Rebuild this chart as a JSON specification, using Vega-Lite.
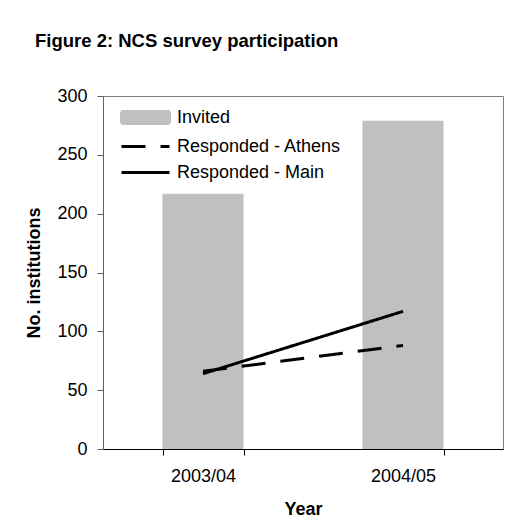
{
  "$schema": "https://vega.github.io/schema/vega-lite/v6.json",
  "autosize": {"type": "none"},
  "width": 400,
  "height": 353,
  "padding": {"left": 103, "top": 96, "right": 23, "bottom": 79},
  "background": "white",
  "config": {
    "font": "Liberation Sans",
    "view": {"stroke": "#808080", "strokeWidth": 1}
  },
  "title": {
    "text": "Figure 2: NCS survey participation",
    "anchor": "start",
    "frame": "group",
    "dx": -68,
    "offset": 37,
    "fontSize": 18.5,
    "fontWeight": "bold",
    "color": "black"
  },
  "data": {
    "values": [
      {"year": "2003/04", "series": "Invited", "value": 217},
      {"year": "2004/05", "series": "Invited", "value": 279},
      {"year": "2003/04", "series": "Responded - Athens", "value": 66},
      {"year": "2004/05", "series": "Responded - Athens", "value": 88},
      {"year": "2003/04", "series": "Responded - Main", "value": 64},
      {"year": "2004/05", "series": "Responded - Main", "value": 117}
    ]
  },
  "encoding": {
    "x": {
      "field": "year",
      "type": "nominal",
      "scale": {"paddingInner": 0.595, "paddingOuter": 0.2975},
      "axis": {
        "title": "Year",
        "labelAngle": 0,
        "labelFontSize": 18,
        "labelColor": "black",
        "labelPadding": 12,
        "tickBand": "extent",
        "tickSize": 6,
        "tickColor": "black",
        "domainColor": "black",
        "titleFontSize": 18,
        "titleFontWeight": "bold",
        "titleColor": "black",
        "titlePadding": 15
      }
    },
    "y": {
      "field": "value",
      "type": "quantitative",
      "scale": {"domain": [0, 300], "nice": false},
      "axis": {
        "title": "No. institutions",
        "values": [0, 50, 100, 150, 200, 250, 300],
        "grid": false,
        "labelFontSize": 18,
        "labelColor": "black",
        "labelPadding": 10,
        "tickSize": 6,
        "tickColor": "#606060",
        "domainColor": "#606060",
        "titleFontSize": 18,
        "titleFontWeight": "bold",
        "titleColor": "black",
        "titlePadding": 13
      }
    },
    "color": {
      "field": "series",
      "type": "nominal",
      "scale": {
        "domain": ["Invited", "Responded - Athens", "Responded - Main"],
        "range": ["#c0c0c0", "#000000", "#000000"]
      },
      "legend": {
        "title": null,
        "orient": "none",
        "legendX": 29,
        "legendY": 8,
        "padding": 0,
        "symbolSize": 576,
        "rowPadding": 3,
        "labelOffset": 18,
        "labelFontSize": 18,
        "labelColor": "black",
        "labelLimit": 300,
        "encode": {
          "symbols": {
            "update": {
              "shape": {"signal": "datum.value === 'Invited' ? 'M-2,-0.5H2V0.5H-2Z' : 'M-2,0H2'"},
              "fill": {"signal": "datum.value === 'Invited' ? '#c0c0c0' : 'transparent'"},
              "stroke": {"signal": "datum.value === 'Invited' ? 'transparent' : 'black'"},
              "strokeWidth": {"value": 3},
              "strokeDash": {"signal": "datum.value === 'Responded - Athens' ? [24, 15] : [1, 0]"},
              "opacity": {"value": 1}
            }
          }
        }
      }
    }
  },
  "layer": [
    {
      "transform": [{"filter": "datum.series === 'Invited'"}],
      "mark": {"type": "bar", "opacity": 1}
    },
    {
      "transform": [{"filter": "datum.series !== 'Invited'"}],
      "mark": {"type": "line", "strokeWidth": 3, "strokeCap": "butt"},
      "encoding": {
        "strokeDash": {
          "field": "series",
          "type": "nominal",
          "scale": {
            "domain": ["Responded - Athens", "Responded - Main"],
            "range": [[24, 15], [1, 0]]
          },
          "legend": null
        }
      }
    }
  ]
}
